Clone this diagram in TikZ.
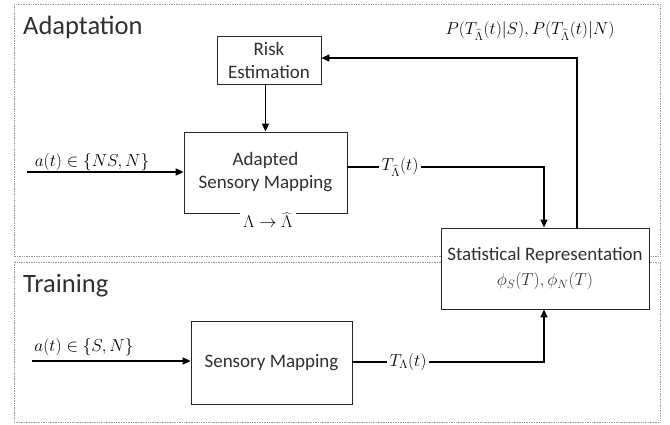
\documentclass[tikz,border=0pt]{standalone}
\usepackage{fontspec}
\setmainfont{Carlito}
\usetikzlibrary{arrows.meta}
\definecolor{txt}{HTML}{303030}
\tikzset{
  region/.style={draw=gray!80, densely dotted, line width=0.7pt},
  blockbox/.style={draw=black!85, line width=0.8pt, fill=white, align=center, text=txt,
    font=\fontsize{19}{23}\selectfont, inner sep=0pt},
  arr/.style={-{Triangle[length=8pt,width=7pt]}, line width=1.5pt},
  mathlbl/.style={font=\fontsize{18}{21}\selectfont, inner sep=1pt},
  title/.style={font=\fontsize{26.5}{31}\selectfont, text=txt, anchor=base west, inner sep=0pt}
}
\begin{document}
\begin{tikzpicture}[x=1pt,y=-1pt]
\useasboundingbox (0,0) rectangle (670,424);
\fill[white] (0,0) rectangle (670,424);
% regions
\draw[region] (14,4) rectangle (660,256);
\draw[region] (14,262) rectangle (660,422);
\node[title] (tadapt) at (23,34) {Adaptation};
\node[title] (ttrain) at (23,292) {Training};
% blocks
\node[blockbox, minimum width=104pt, minimum height=48pt] (risk) at (269,60) {Risk\\Estimation};
\node[blockbox, minimum width=163pt, minimum height=81pt] (adapted) at (265.5,172.5) {Adapted\\Sensory Mapping};
\node[mathlbl, fill=white, inner xsep=3pt] (lam) at (268,220) {$\Lambda\rightarrow\widehat{\Lambda}$};
\node[blockbox, minimum width=208pt, minimum height=81pt] (stat) at (545,268.5)
  {Statistical Representation\\[2pt]{\fontsize{18}{21}\selectfont$\phi_S(T),\phi_N(T)$}};
\node[blockbox, minimum width=161pt, minimum height=83pt] (sens) at (271.5,362.5) {Sensory Mapping};
% adaptation input
\coordinate (in1) at (27,172);
\draw[arr] (in1) -- (in1 -| adapted.west);
\node[mathlbl, anchor=base] (lin1) at (92,166) {$a(t)\in\{NS,N\}$};
% risk -> adapted
\draw[arr] (risk.south -| adapted.north) -- (adapted.north);
% adapted -> stat
\coordinate (c1) at (544,167);
\draw[arr] (adapted.east |- c1) -- (c1) -- (c1 |- stat.north);
\node[mathlbl, fill=white, inner xsep=3pt] (lt1) at (400,167) {$T_{\widehat{\Lambda}}(t)$};
% stat -> risk feedback
\coordinate (c2) at (577,58);
\draw[arr] (c2 |- stat.north) -- (c2) -- (c2 -| risk.east);
\node[mathlbl] (lp) at (530,31) {$P(T_{\widehat{\Lambda}}(t)|S),P(T_{\widehat{\Lambda}}(t)|N)$};
% training input
\coordinate (in2) at (32,361);
\draw[arr] (in2) -- (in2 -| sens.west);
\node[mathlbl, anchor=base] (lin2) at (84,351) {$a(t)\in\{S,N\}$};
% sens -> stat
\coordinate (c3) at (544,362);
\draw[arr] (sens.east |- c3) -- (c3) -- (c3 |- stat.south);
\node[mathlbl, fill=white, inner xsep=3pt] (lt2) at (408,362) {$T_{\Lambda}(t)$};
\end{tikzpicture}
\end{document}
